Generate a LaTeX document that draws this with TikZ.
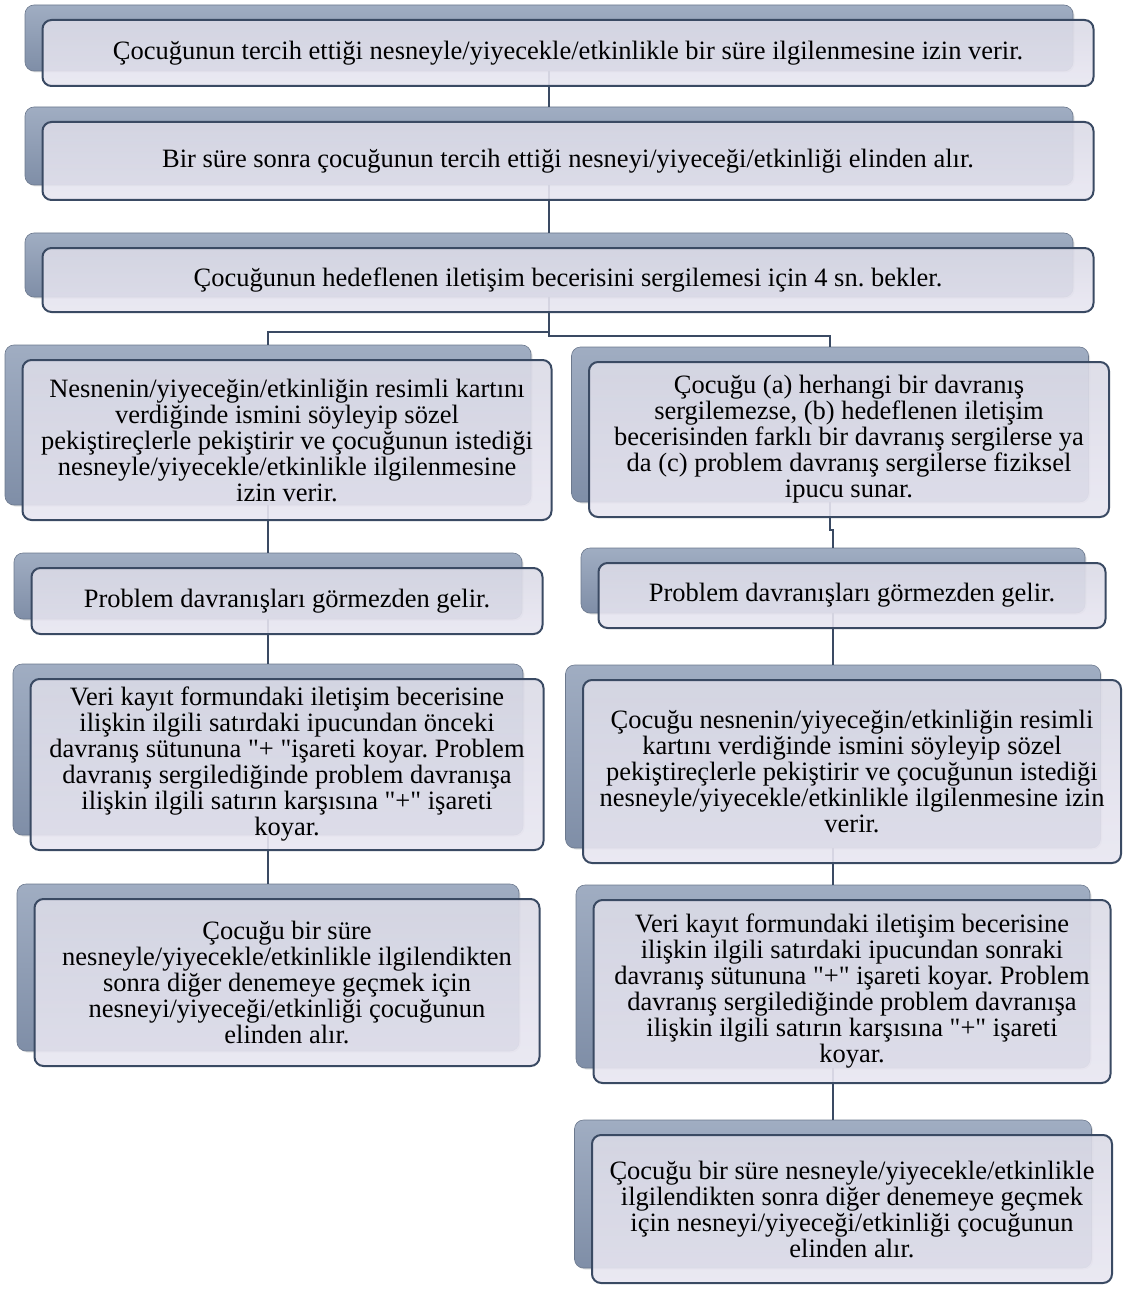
\documentclass[tikz,border=0pt]{standalone}
\usepackage{fontspec}
\setmainfont{Liberation Serif}[Ligatures=TeXOff]
\usetikzlibrary{shadows}
\definecolor{edge}{HTML}{3A4A63}
\definecolor{backtop}{HTML}{A0ADC2}
\definecolor{backbot}{HTML}{7F8EA7}
\definecolor{fronttop}{HTML}{DADAE6}
\definecolor{frontbot}{HTML}{E8E6F1}
\pgfdeclarelayer{bg}\pgfdeclarelayer{mid}\pgfsetlayers{bg,mid,main}
\tikzset{
 backbox/.style={rounded corners=9pt, top color=backtop, bottom color=backbot, draw=backbot!85!black, line width=0.6pt,
   drop shadow={opacity=0.22,shadow xshift=1.5pt,shadow yshift=-1.5pt}},
 frontbox/.style={rounded corners=9pt, draw=edge, line width=2pt, top color=fronttop, bottom color=frontbot,
   fill opacity=0.9, text opacity=1, draw opacity=1, align=center, inner sep=3pt,
   font=\fontsize{26.5}{26}\selectfont\frenchspacing},
 conn/.style={draw=edge, line width=2.3pt},
}
% #1 name, #2 back centre x, #3 front top y, #4 front bottom y, #5 front width, #6 text
\newcommand\stepbox[6]{%
 \pgfmathsetmacro\sbW{#5}%
 \pgfmathsetmacro\sbWb{#5-3}%
 \pgfmathsetmacro\sbH{#4-#3}%
 \pgfmathsetmacro\sbY{(#3+#4)/2}%
 \pgfmathsetmacro\sbYb{(#3+#4)/2-15}%
 \pgfmathsetmacro\sbX{#2+19}%
 \begin{pgfonlayer}{bg}
 \node[backbox, minimum width=\sbWb pt, minimum height=\sbH pt] (#1b) at (#2,\sbYb) {};
 \end{pgfonlayer}
 \node[frontbox, minimum width=\sbW pt, minimum height=\sbH pt] (#1) at (\sbX,\sbY) {#6};
}
\begin{document}
\begin{tikzpicture}[x=1pt,y=-1pt]
\useasboundingbox (0,0) rectangle (1123,1289);
\stepbox{b1}{549}{20}{86}{1051}{Çocuğunun tercih ettiği nesneyle/yiyecekle/etkinlikle bir süre ilgilenmesine izin verir.}
\stepbox{b2}{549}{122}{200}{1051}{Bir süre sonra çocuğunun tercih ettiği nesneyi/yiyeceği/etkinliği elinden alır.}
\stepbox{b3}{549}{248}{312}{1051}{Çocuğunun hedeflenen iletişim becerisini sergilemesi için 4 sn. bekler.}
\stepbox{l1}{268}{360}{520}{529}{Nesnenin/yiyeceğin/etkinliğin resimli kartını\\verdiğinde ismini söyleyip sözel\\pekiştireçlerle pekiştirir ve çocuğunun istediği\\nesneyle/yiyecekle/etkinlikle ilgilenmesine\\izin verir.}
\stepbox{l2}{268}{568}{634}{511}{Problem davranışları görmezden gelir.}
\stepbox{l3}{268}{679}{850}{513}{Veri kayıt formundaki iletişim becerisine\\ilişkin ilgili satırdaki ipucundan önceki\\davranış sütununa "+ "işareti koyar. Problem\\davranış sergilediğinde problem davranışa\\ilişkin ilgili satırın karşısına "+" işareti\\koyar.}
\stepbox{l4}{268}{899}{1066}{505}{Çocuğu bir süre\\nesneyle/yiyecekle/etkinlikle ilgilendikten\\sonra diğer denemeye geçmek için\\nesneyi/yiyeceği/etkinliği çocuğunun\\elinden alır.}
\stepbox{r1}{830}{362}{517}{520}{Çocuğu (a) herhangi bir davranış\\sergilemezse, (b) hedeflenen iletişim\\becerisinden farklı bir davranış sergilerse ya\\da (c) problem davranış sergilerse fiziksel\\ipucu sunar.}
\stepbox{r2}{833}{563}{628}{507}{Problem davranışları görmezden gelir.}
\stepbox{r3}{833}{680}{863}{538}{Çocuğu nesnenin/yiyeceğin/etkinliğin resimli\\kartını verdiğinde ismini söyleyip sözel\\pekiştireçlerle pekiştirir ve çocuğunun istediği\\nesneyle/yiyecekle/etkinlikle ilgilenmesine izin\\verir.}
\stepbox{r4}{833}{900}{1083}{517}{Veri kayıt formundaki iletişim becerisine\\ilişkin ilgili satırdaki ipucundan sonraki\\davranış sütununa "+" işareti koyar. Problem\\davranış sergilediğinde problem davranışa\\ilişkin ilgili satırın karşısına "+" işareti\\koyar.}
\stepbox{r5}{833}{1135}{1283}{520}{Çocuğu bir süre nesneyle/yiyecekle/etkinlikle\\ilgilendikten sonra diğer denemeye geçmek\\için nesneyi/yiyeceği/etkinliği çocuğunun\\elinden alır.}
\begin{pgfonlayer}{mid}
\draw[conn] (b1b.south) -- (b2b.north);
\draw[conn] (b2b.south) -- (b3b.north);
\draw[conn] (b3b.south) -- ++(0,35) -| (l1b.north);
\draw[conn] (b3b.south) -- ++(0,39) -| (r1b.north);
\draw[conn] (l1b.south) -- (l2b.north);
\draw[conn] (l2b.south) -- (l3b.north);
\draw[conn] (l3b.south) -- (l4b.north);
\draw[conn] (r1b.south) -- ++(0,28) -| (r2b.north);
\draw[conn] (r2b.south) -- (r3b.north);
\draw[conn] (r3b.south) -- (r4b.north);
\draw[conn] (r4b.south) -- (r5b.north);
\end{pgfonlayer}
\end{tikzpicture}
\end{document}
